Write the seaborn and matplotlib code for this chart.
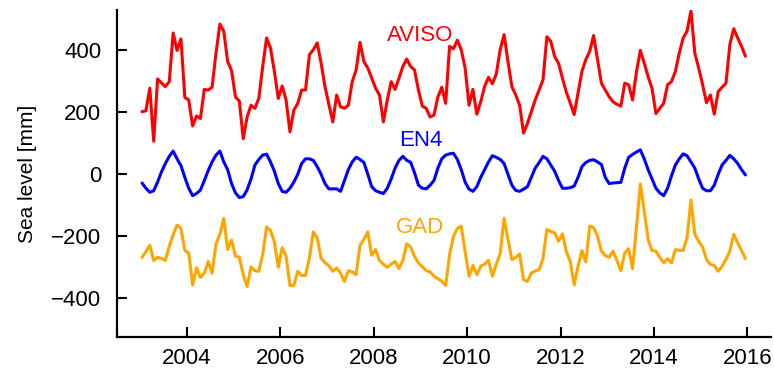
import numpy as np
import pandas as pd
import matplotlib
matplotlib.use("Agg")
import matplotlib.pyplot as plt
import seaborn as sns

# Monthly sea level anomalies [mm], Jan 2003 - Dec 2015
aviso = [202, 205, 278, 107, 308, 295, 283, 299, 456, 400, 437, 248,
         240, 156, 188, 180, 274, 272, 281, 391, 485, 462, 364, 335,
         250, 236, 115, 185, 223, 213, 245, 348, 440, 408, 332, 245,
         285, 240, 137, 207, 229, 272, 272, 386, 402, 424, 359, 283,
         225, 169, 256, 218, 213, 223, 299, 337, 426, 364, 343, 310,
         278, 256, 169, 240, 299, 274, 310, 348, 372, 348, 337, 272,
         220, 213, 185, 191, 250, 281, 229, 413, 405, 433, 402, 343,
         223, 274, 194, 234, 283, 313, 292, 324, 402, 451, 364, 283,
         256, 223, 133, 164, 202, 240, 272, 305, 444, 429, 380, 358,
         310, 265, 230, 193, 262, 332, 370, 397, 448, 370, 294, 272,
         250, 234, 226, 220, 294, 289, 240, 330, 400, 359, 315, 278,
         196, 213, 229, 289, 299, 332, 391, 440, 462, 527, 391, 343,
         289, 231, 256, 194, 267, 281, 294, 419, 470, 440, 413, 381]

en4 = [-28, -45, -58, -53, -25, 8, 35, 58, 75, 50, 28, -10,
       -45, -69, -62, -51, -20, 12, 40, 62, 75, 40, 15, -30,
       -60, -75, -72, -50, -15, 30, 48, 62, 65, 40, 10, -30,
       -55, -58, -45, -25, 0, 35, 50, 50, 45, 25, 0, -30,
       -47, -47, -47, -55, -20, 15, 40, 55, 48, 38, 0, -40,
       -53, -58, -62, -45, -15, 20, 45, 58, 45, 39, 5, -35,
       -45, -47, -35, -20, 20, 50, 62, 66, 68, 48, 15, -25,
       -48, -55, -40, -10, 15, 40, 60, 55, 48, 35, 0, -35,
       -52, -55, -48, -40, -10, 20, 38, 58, 50, 30, 10, -20,
       -45, -45, -43, -38, -10, 25, 38, 45, 47, 40, 32, -10,
       -30, -28, -27, -26, 20, 55, 64, 72, 79, 50, 15, -15,
       -45, -60, -69, -45, -5, 30, 50, 66, 60, 40, 20, -15,
       -45, -53, -53, -35, 0, 30, 45, 61, 50, 35, 15, -2]

gad = [-268, -250, -229, -278, -268, -272, -278, -232, -195, -164, -174, -246,
       -254, -357, -302, -333, -319, -281, -319, -224, -194, -142, -243, -212,
       -264, -267, -324, -362, -299, -311, -313, -259, -170, -181, -218, -300,
       -237, -264, -359, -359, -313, -327, -326, -270, -186, -205, -270, -285,
       -295, -313, -302, -319, -346, -311, -315, -324, -229, -210, -186, -261,
       -243, -278, -290, -300, -290, -281, -304, -278, -224, -235, -265, -286,
       -298, -311, -315, -329, -337, -345, -359, -260, -200, -175, -167, -250,
       -329, -294, -324, -297, -290, -278, -329, -290, -257, -142, -210, -275,
       -268, -257, -340, -346, -319, -312, -308, -272, -178, -185, -189, -216,
       -192, -250, -281, -357, -297, -246, -283, -167, -172, -199, -248, -262,
       -268, -248, -278, -311, -254, -240, -304, -172, -31, -118, -210, -246,
       -248, -268, -286, -272, -286, -243, -245, -246, -205, -83, -194, -216,
       -235, -275, -291, -294, -313, -297, -275, -248, -194, -221, -246, -272]

series_names = ["AVISO", "EN4", "GAD"]
series_colors = ["#FF0000", "#0000FF", "#FFA500"]
year_ticks = [2004, 2006, 2008, 2010, 2012, 2014, 2016]
level_ticks = [-400, -200, 0, 200, 400]

start_year = 2003
n_months = len(aviso)
time = start_year + (np.arange(n_months) + 0.5) / 12.0

df = pd.concat([
    pd.DataFrame({"time": time, "level": vals, "series": name})
    for name, vals in zip(series_names, [aviso, en4, gad])
], ignore_index=True)

sns.set_style("ticks")
plt.rcParams["font.family"] = ["Liberation Sans", "DejaVu Sans"]
plt.rcParams["text.color"] = "black"
plt.rcParams["axes.labelcolor"] = "black"
plt.rcParams["xtick.color"] = "black"
plt.rcParams["ytick.color"] = "black"

fig = plt.figure(figsize=(7.74, 3.74), dpi=100)
ax = fig.add_axes([0.1508, 0.099, 0.845, 0.874])

sns.lineplot(data=df, x="time", y="level", hue="series",
             palette=dict(zip(series_names, series_colors)),
             linewidth=2.2, legend=False, ax=ax)

ax.set_xlim(2002.5, 2016.5)
ax.set_ylim(-525, 530)
ax.set_xticks(year_ticks)
ax.set_xticklabels([str(y) for y in year_ticks])
ax.set_yticks(level_ticks)
ax.set_yticklabels([f"\u2212{abs(v)}" if v < 0 else str(v) for v in level_ticks])
ax.set_xlabel("")
ax.set_ylabel("Sea level [mm]", fontsize=15, labelpad=10, color="black")

ax.tick_params(axis="both", direction="in", length=7, width=1.5,
               labelsize=16, color="black", labelcolor="black")
ax.tick_params(axis="y", pad=11)
ax.tick_params(axis="x", pad=8)

for side in ["top", "right"]:
    ax.spines[side].set_visible(False)
for side in ["left", "bottom"]:
    ax.spines[side].set_linewidth(1.6)
    ax.spines[side].set_color("black")

# Series labels
label_pos = {"AVISO": (2009.0, 447), "EN4": (2009.0, 110), "GAD": (2009.0, -173)}
for name, color in zip(series_names, series_colors):
    x, y = label_pos[name]
    ax.text(x, y, name, color=color, fontsize=16, ha="center", va="center")

fig.savefig("out.png", dpi=100)
